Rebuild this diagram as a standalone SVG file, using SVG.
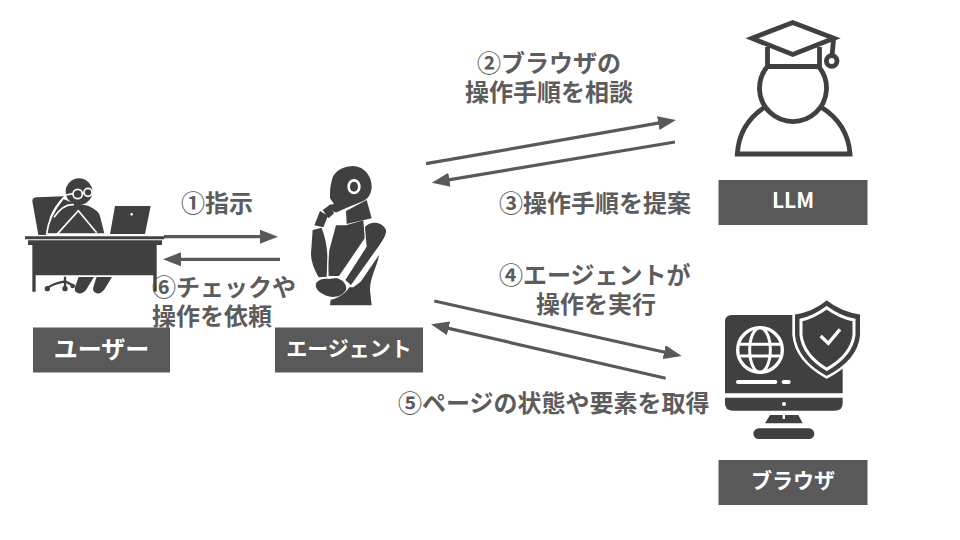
<svg xmlns="http://www.w3.org/2000/svg" width="960" height="540" viewBox="0 0 960 540">
<style>
text{font-family:"Noto Sans CJK JP","Noto Sans",sans-serif;font-weight:700}
.c{font-size:24px;fill:#5c5c5c}
.l{font-size:21px;fill:#fff;text-anchor:middle}
.b{fill:#595959}
.d{fill:#404040}
.w{fill:#fff}
.a{stroke:#595959;stroke-width:3.2;fill:none;marker-end:url(#h)}
.o{fill:none;stroke:#404040;stroke-width:4.8}
.g{fill:none;stroke:#fff;stroke-width:5}
</style>
<defs><marker id="h" markerUnits="userSpaceOnUse" markerWidth="18" markerHeight="14" viewBox="0 0 18 14" refX="10" refY="7" orient="auto"><path d="M0 0L18 7L0 14Z" fill="#595959"/></marker></defs>
<rect width="960" height="540" fill="#fff"/>
<g id="connectors">
<path class="a" d="M164 236.700H270"/>
<path class="a" d="M280 259.300H171"/>
<path class="a" d="M426 163.700L668.100 121.400"/>
<path class="a" d="M675 142L439.600 181.400"/>
<path class="a" d="M434.300 301L673.900 354.300"/>
<path class="a" d="M665.700 378.300L438.800 326.100"/>
</g>
<g id="user" transform="translate(0 160) scale(.33333)">
<path class="d" d="M97 124Q97 112 110 112L192 109Q165 135 150 170L140 225H115Z"/>
<path class="d" stroke="#fff" stroke-width="5" d="M140 222Q145 170 190 115L225 128L265 135Q300 150 303 170L316 222Z"/>
<path class="g" d="M170 224L235 152L290 218M162 172Q190 130 222 134"/>
<circle class="d" cx="237" cy="95" r="40"/>
<g fill="none" stroke="#fff" stroke-width="5"><circle cx="233" cy="102" r="14"/><circle cx="264" cy="97" r="12"/><path d="M198 105L219 101M247 100L252 98"/></g>
<path class="d" d="M345 138H452L435 222H330Z"/>
<circle class="w" cx="395" cy="163" r="4"/>
<path class="d" d="M75 229H493V238H75ZM84 241H486V255H470V395H460V346H107V395H97V255H84Z"/>
<path class="d" d="M236 351H282L258 390Q248 402 235 400Q220 396 226 378ZM290 351H336L312 390Q302 402 290 400Q275 396 281 378Z"/>
<path fill="none" stroke="#404040" stroke-width="7" d="M142 384Q160 370 195 364L218 376M195 350V384"/>
<circle class="d" cx="142" cy="386" r="8"/><circle class="d" cx="195" cy="386" r="8"/><circle class="d" cx="218" cy="378" r="7"/>
</g>
<g id="agent" transform="translate(270 150) scale(.33333)">
<path class="d" d="M180 130C180 110 185 95 187 85C195 60 225 48 250 48C285 50 305 80 305 110C305 135 290 150 275 155C250 165 225 175 200 187C190 188 180 178 176 165L192 162L180 145Z"/>
<ellipse class="w" cx="252" cy="110" rx="20" ry="23"/><ellipse class="d" cx="252" cy="110" rx="12" ry="15"/>
<path class="d" d="M228 183L290 150L305 205L230 222Z"/>
<path class="d" d="M198 226L228 226L280 211L284 265L207 378L176 378Q174 340 178 300Z"/>
<path class="d" d="M285 232C295 215 335 210 348 240C350 255 335 275 325 290L243 405L226 390L290 290Z"/>
<path class="d" d="M327 315C325 340 300 380 300 420L305 466H180L182 449C200 447 225 432 238 412L250 412L272 395Z"/>
<path class="d" d="M128 240L155 233Q172 280 172 320L170 380L146 382Q122 340 123 310Z"/>
<path class="d" d="M133 226L150 183L174 197L160 232ZM158 180L178 166L192 190L176 205Z"/>
<path class="d" d="M138 400C145 388 165 385 175 387L200 384C220 390 232 405 228 420C215 442 190 443 175 439C155 433 133 420 138 400Z"/>
</g>
<g id="llm">
<path class="o" d="M767.500 47V66.500H819.500V47"/>
<path class="o" d="M767 67A33.500 33.500 0 1 0 819 67"/>
<path class="o" d="M765 107Q739 124 737.300 154H850Q848 124 821 107"/>
<path class="o" d="M752 38.300L792.700 22.500L834 38.300L792.700 54.500Z"/>
<path class="o" d="M833.500 40L832 56"/>
<circle class="o" cx="831.700" cy="61" r="5.300"/>
</g>
<g id="browser" transform="translate(700 290) scale(.33333)">
<path class="d" d="M95 75H428V310H75V95Q75 75 95 75Z"/>
<path class="d" d="M75 323H428V340Q428 362 406 362H97Q75 362 75 340Z"/>
<path class="d" d="M210 375H295L308 400H195Z"/>
<rect class="w" x="248" y="375" width="7" height="12"/>
<rect class="d" x="160" y="415" width="183" height="32" rx="16"/>
<circle class="w" cx="252" cy="342" r="6"/>
<path class="d" stroke="#fff" stroke-width="8" d="M380 26Q425 62 484 70V135Q478 212 380 262Q288 212 281 135V70Q338 62 380 26Z"/>
<path fill="none" stroke="#fff" stroke-width="9" d="M380 53Q420 82 462 90V135Q455 195 380 238Q310 195 303 135V90Q340 82 380 53Z"/>
<path fill="none" stroke="#fff" stroke-width="10" d="M362 138L385 160L420 118"/>
<circle fill="none" stroke="#fff" stroke-width="10" cx="180" cy="180" r="67"/>
<ellipse fill="none" stroke="#fff" stroke-width="9" cx="180" cy="180" rx="31" ry="67"/>
<path fill="none" stroke="#fff" stroke-width="9" d="M120 163H240M120 198H240"/>
<rect class="w" x="108" y="270" width="124" height="12" rx="6"/>
<rect class="w" x="245" y="270" width="27" height="12" rx="6"/>
</g>
<g id="label-user"><rect class="b" x="33" y="327.500" width="137" height="45"/><text class="l" x="101.500" y="358" style="font-size:24px">ユーザー</text></g>
<g id="label-agent"><rect class="b" x="275" y="327.500" width="148" height="45"/><text class="l" x="349" y="355.500">エージェント</text></g>
<g id="label-llm"><rect class="b" x="718.500" y="180" width="149" height="45"/><text class="l" x="793" y="208">LLM</text></g>
<g id="label-browser"><rect class="b" x="718.500" y="460" width="149" height="45"/><text class="l" x="793" y="488">ブラウザ</text></g>
<g id="labels">
<text class="c" x="181" y="212">①指示</text>
<text class="c" x="152" y="296">⑥チェックや</text>
<text class="c" x="152" y="325">操作を依頼</text>
<text class="c" x="477" y="72">②ブラウザの</text>
<text class="c" x="465" y="101">操作手順を相談</text>
<text class="c" x="499" y="212">③操作手順を提案</text>
<text class="c" x="499" y="284">④エージェントが</text>
<text class="c" x="536" y="313">操作を実行</text>
<text class="c" x="398" y="412">⑤ページの状態や要素を取得</text>
</g>
</svg>
